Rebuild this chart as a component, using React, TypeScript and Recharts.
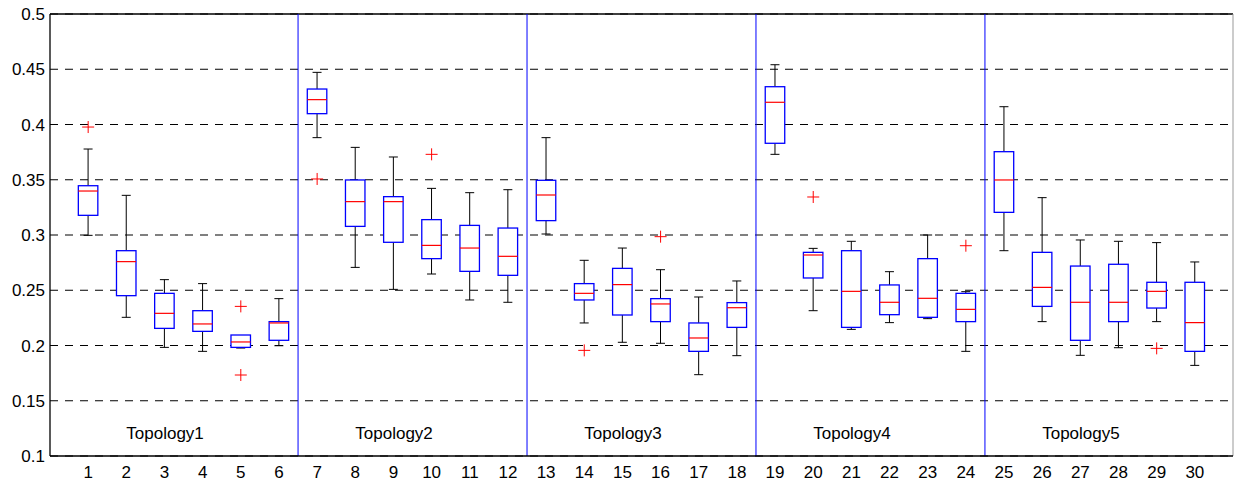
import React from "react";
import {
  ComposedChart,
  Bar,
  Scatter,
  XAxis,
  YAxis,
  CartesianGrid,
  ReferenceLine,
} from "recharts";

const categories = Array.from({ length: 30 }, (_, i) => i + 1);

const whiskerLow = [
  0.2997, 0.2255, 0.1983, 0.1947, 0.1977, 0.1998,
  0.3881, 0.2707, 0.2508, 0.2647, 0.2412, 0.2391,
  0.3009, 0.2204, 0.2029, 0.2020, 0.1736, 0.1908,
  0.3730, 0.2315, 0.2146, 0.2207, 0.2243, 0.1947,
  0.2858, 0.2216, 0.1911, 0.1980, 0.2216, 0.1820,
];
const q1 = [
  0.3178, 0.2451, 0.2155, 0.2128, 0.1983, 0.2047,
  0.4098, 0.3078, 0.2934, 0.2786, 0.2671, 0.2635,
  0.3130, 0.2412, 0.2276, 0.2216, 0.1947, 0.2164,
  0.3830, 0.2611, 0.2164, 0.2279, 0.2255, 0.2216,
  0.3205, 0.2354, 0.2047, 0.2216, 0.2339, 0.1947,
];
const median = [
  0.3398, 0.2759, 0.2291, 0.2195, 0.2032, 0.2204,
  0.4225, 0.3302, 0.3302, 0.2906, 0.2882, 0.2807,
  0.3362, 0.2472, 0.2551, 0.2376, 0.2068, 0.2342,
  0.4201, 0.2819, 0.2490, 0.2391, 0.2427, 0.2327,
  0.3498, 0.2526, 0.2391, 0.2391, 0.2490, 0.2207,
];
const q3 = [
  0.3446, 0.2858, 0.2472, 0.2315, 0.2095, 0.2216,
  0.4321, 0.3498, 0.3347, 0.3139, 0.3087, 0.3063,
  0.3495, 0.2560, 0.2698, 0.2424, 0.2204, 0.2388,
  0.4342, 0.2843, 0.2858, 0.2548, 0.2786, 0.2472,
  0.3754, 0.2843, 0.2719, 0.2735, 0.2572, 0.2572,
];
const whiskerHigh = [
  0.3778, 0.3359, 0.2596, 0.2560, 0.2089, 0.2424,
  0.4472, 0.3793, 0.3706, 0.3422, 0.3383, 0.3410,
  0.3881, 0.2771, 0.2882, 0.2686, 0.2439, 0.2584,
  0.4541, 0.2879, 0.2943, 0.2668, 0.3000, 0.2487,
  0.4161, 0.3338, 0.2955, 0.2943, 0.2931, 0.2756,
];

const outlierCategory = [1, 5, 5, 7, 10, 14, 16, 20, 24, 29];
const outlierValue = [0.3977, 0.2354, 0.1733, 0.3507, 0.373, 0.1956, 0.2985, 0.3344, 0.2903, 0.1974];

const yTicks = [0.1, 0.15, 0.2, 0.25, 0.3, 0.35, 0.4, 0.45, 0.5];
const yTickLabels = ["0.1", "0.15", "0.2", "0.25", "0.3", "0.35", "0.4", "0.45", "0.5"];

const separators = [6.5, 12.5, 18.5, 24.5];
const groupLabels = ["Topology1", "Topology2", "Topology3", "Topology4", "Topology5"];
const groupLabelX = [2, 8, 14, 20, 26];
const groupLabelY = 0.121;

const boxData = categories.map((c, i) => ({
  x: c,
  range: [whiskerLow[i], whiskerHigh[i]],
  lo: whiskerLow[i],
  q1: q1[i],
  med: median[i],
  q3: q3[i],
  hi: whiskerHigh[i],
}));

const outlierData = outlierCategory.map((c, i) => ({ x: c, y: outlierValue[i] }));
const labelData = groupLabels.map((l, i) => ({ x: groupLabelX[i], y: groupLabelY, label: l }));

const FONT = "'Liberation Sans', Arial, Helvetica, sans-serif";

const BoxShape = (props: any) => {
  const { x, y, width, height, payload } = props;
  if (x == null || y == null) return null;
  const top = Math.min(y, y + height);
  const bottom = Math.max(y, y + height);
  const lo = payload.lo;
  const hi = payload.hi;
  const py = (v: number) =>
    hi === lo ? bottom : bottom - ((v - lo) / (hi - lo)) * (bottom - top);
  const cx = x + width / 2;
  const bw = 19.5;
  const cap = 9;
  const yq1 = py(payload.q1);
  const yq3 = py(payload.q3);
  const ym = py(payload.med);
  return (
    <g>
      <line x1={cx} x2={cx} y1={top} y2={yq3} stroke="#000" strokeWidth={1} />
      <line x1={cx} x2={cx} y1={yq1} y2={bottom} stroke="#000" strokeWidth={1} />
      <line x1={cx - cap / 2} x2={cx + cap / 2} y1={top} y2={top} stroke="#000" strokeWidth={1} />
      <line x1={cx - cap / 2} x2={cx + cap / 2} y1={bottom} y2={bottom} stroke="#000" strokeWidth={1} />
      <rect
        x={cx - bw / 2}
        y={yq3}
        width={bw}
        height={Math.max(0.5, yq1 - yq3)}
        fill="#fff"
        stroke="#0000ff"
        strokeWidth={1.3}
      />
      <line x1={cx - bw / 2} x2={cx + bw / 2} y1={ym} y2={ym} stroke="#ff0000" strokeWidth={1.2} />
    </g>
  );
};

const PlusShape = (props: any) => {
  const { cx, cy } = props;
  if (cx == null || cy == null) return null;
  return (
    <g>
      <line x1={cx - 6} x2={cx + 6} y1={cy} y2={cy} stroke="#ff0000" strokeWidth={1} />
      <line x1={cx} x2={cx} y1={cy - 6} y2={cy + 6} stroke="#ff0000" strokeWidth={1} />
    </g>
  );
};

const LabelShape = (props: any) => {
  const { cx, cy, payload } = props;
  if (cx == null || cy == null) return null;
  return (
    <text x={cx} y={cy + 6} textAnchor="start" fontSize={17} fontFamily={FONT} fill="#000">
      {payload.label}
    </text>
  );
};

const XTick = (props: any) => {
  const { x, y, payload } = props;
  return (
    <text x={x} y={y + 22} textAnchor="middle" fontSize={17} fontFamily={FONT} fill="#000">
      {payload.value}
    </text>
  );
};

const YTick = (props: any) => {
  const { x, y, payload } = props;
  const idx = yTicks.findIndex((t) => Math.abs(t - payload.value) < 1e-9);
  const label = idx >= 0 ? yTickLabels[idx] : String(payload.value);
  return (
    <text x={x - 5} y={y + 6} textAnchor="end" fontSize={17} fontFamily={FONT} fill="#000">
      {label}
    </text>
  );
};

export default function App() {
  return (
    <div style={{ position: "absolute", left: 0, top: 0, background: "#fff" }}>
      <ComposedChart
        width={1235}
        height={483}
        data={boxData}
        margin={{ top: 14, right: 2, left: 0, bottom: 0 }}
      >
        <CartesianGrid
          horizontal={true}
          vertical={false}
          stroke="#000"
          strokeDasharray="8 7"
          strokeWidth={1}
        />
        <XAxis
          dataKey="x"
          type="number"
          domain={[0, 31]}
          ticks={categories}
          interval={0}
          height={27}
          tickSize={0}
          tickMargin={0}
          tickLine={false}
          axisLine={{ stroke: "#000", strokeWidth: 1.3 }}
          tick={<XTick />}
          allowDataOverflow
        />
        <YAxis
          type="number"
          domain={[0.1, 0.5]}
          ticks={yTicks}
          interval={0}
          width={50}
          tickSize={0}
          tickMargin={0}
          tickLine={false}
          axisLine={{ stroke: "#000", strokeWidth: 1.3 }}
          tick={<YTick />}
          allowDataOverflow
        />
        <ReferenceLine y={0.5} stroke="#000" strokeWidth={1.6} />
        <ReferenceLine x={31} stroke="#999" strokeWidth={1} />
        {separators.map((s) => (
          <ReferenceLine key={s} x={s} stroke="#0000ff" strokeWidth={1} />
        ))}
        <Bar dataKey="range" barSize={20} shape={<BoxShape />} isAnimationActive={false} />
        <Scatter data={outlierData} dataKey="y" shape={<PlusShape />} isAnimationActive={false} />
        <Scatter data={labelData} dataKey="y" shape={<LabelShape />} isAnimationActive={false} />
      </ComposedChart>
    </div>
  );
}
